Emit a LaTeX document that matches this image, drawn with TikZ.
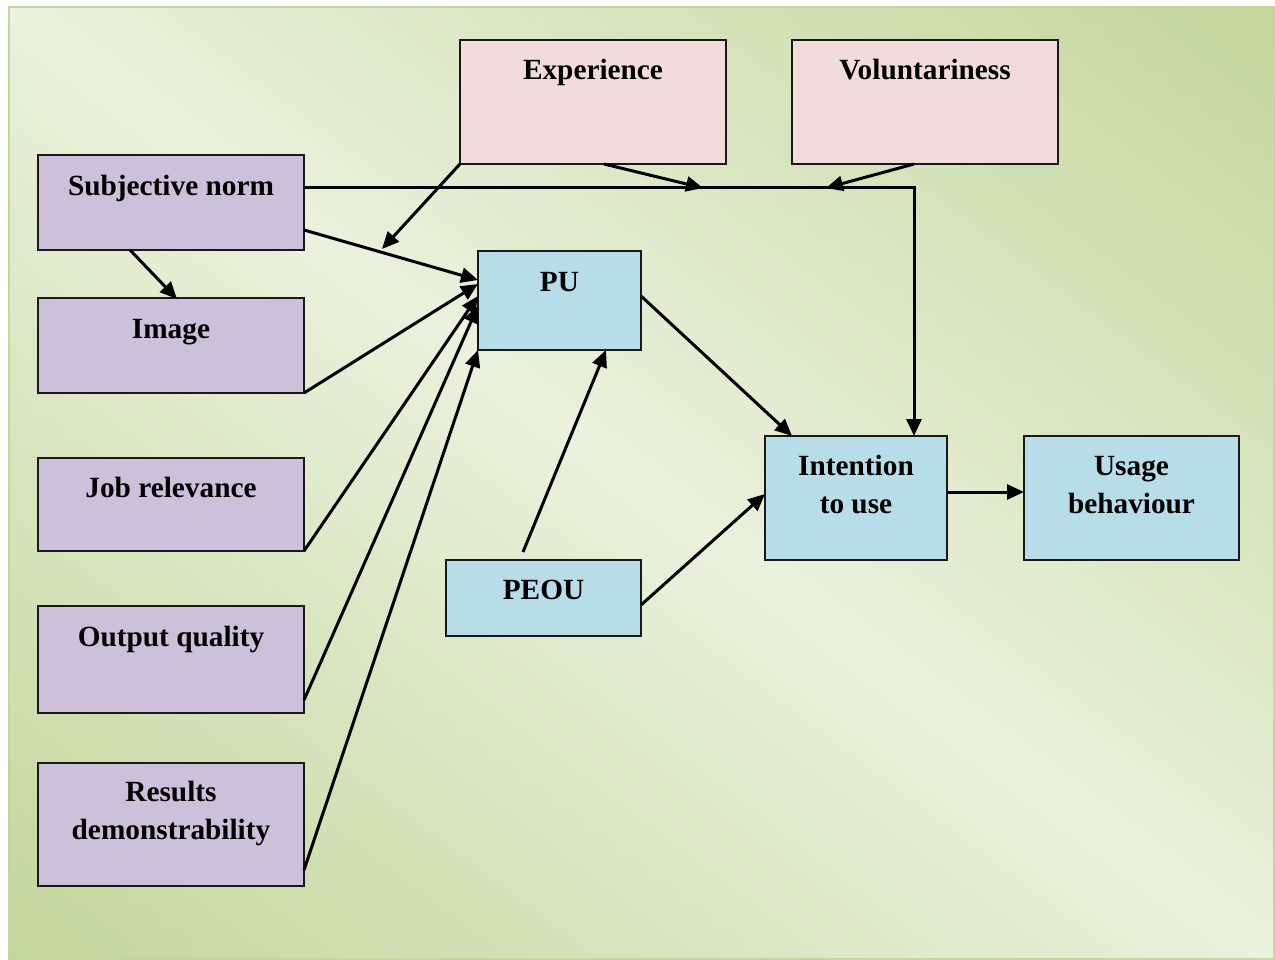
\documentclass[tikz,border=0pt]{standalone}
\usepackage{fontspec}
\setmainfont{Liberation Serif}
\usetikzlibrary{arrows.meta}
\definecolor{bgdark}{HTML}{C3D69B}
\definecolor{bglight}{HTML}{EAF1DD}
\definecolor{purplebox}{HTML}{CCC0DA}
\definecolor{pinkbox}{HTML}{F2DCDB}
\definecolor{bluebox}{HTML}{B7DEE8}
\tikzset{
  box/.style={draw=black!90, line width=2.5pt, inner sep=0pt, outer sep=0pt, anchor=north west},
  pbox/.style={box, fill=purplebox},
  kbox/.style={box, fill=pinkbox},
  bbox/.style={box, fill=bluebox},
  txt/.style={anchor=north, inner sep=0pt, align=center,
    font={\fontsize{29.3}{38}\selectfont\bfseries}},
  arr/.style={line width=3pt, -{Triangle[length=17pt,width=15pt]}},
}
\newcommand{\fl}{\rule{0pt}{21pt}}
\begin{document}
\begin{tikzpicture}[x=1pt,y=-1pt]
\useasboundingbox (0,0) rectangle (1275,960);
\fill[white] (0,0) rectangle (1275,960);
% page background: mirrored diagonal gradient, light along the main diagonal
\begin{scope}
  \clip (9,7) rectangle (1274,959);
  \foreach \i in {0,...,119}{
    \pgfmathsetmacro{\s}{-765+\i*12.75}
    \pgfmathtruncatemacro{\p}{round(abs(\s+6.375)/765*100)}
    \fill[bgdark!\p!bglight, rotate around={-36.96:(641.5,483)}]
      (-700,483+\s) rectangle (1980,483+\s+13.5);
  }
\end{scope}
\draw[bgdark, line width=2pt] (9,7) rectangle (1274,959);

% moderators
\node[kbox, minimum width=266pt, minimum height=124pt] (exp) at (460,40) {};
\node[kbox, minimum width=266pt, minimum height=124pt] (vol) at (792,40) {};
% determinants of PU
\node[pbox, minimum width=266pt, minimum height=95pt] (sub) at (38,155) {};
\node[pbox, minimum width=266pt, minimum height=95pt] (img) at (38,298) {};
\node[pbox, minimum width=266pt, minimum height=93pt] (job) at (38,458) {};
\node[pbox, minimum width=266pt, minimum height=107pt] (out) at (38,606) {};
\node[pbox, minimum width=266pt, minimum height=123pt] (res) at (38,763) {};
% TAM core
\node[bbox, minimum width=163pt, minimum height=99pt] (pu) at (478,251) {};
\node[bbox, minimum width=195pt, minimum height=76pt] (peou) at (446,560) {};
\node[bbox, minimum width=182pt, minimum height=124pt] (int) at (765,436) {};
\node[bbox, minimum width=215pt, minimum height=124pt] (use) at (1024,436) {};

% labels
\node[txt] (expT) at ([yshift=-18pt]exp.north) {\fl Experience};
\node[txt] (volT) at ([yshift=-18pt]vol.north) {\fl Voluntariness};
\node[txt] (subT) at ([yshift=-19pt]sub.north) {\fl Subjective norm};
\node[txt] (imgT) at ([yshift=-19pt]img.north) {\fl Image};
\node[txt] (jobT) at ([yshift=-18pt]job.north) {\fl Job relevance};
\node[txt] (outT) at ([yshift=-19pt]out.north) {\fl Output quality};
\node[txt] (resT) at ([yshift=-17pt]res.north) {\fl Results\\demonstrability};
\node[txt] (puT) at ([yshift=-19pt]pu.north) {\fl PU};
\node[txt] (peouT) at ([yshift=-18pt]peou.north) {\fl PEOU};
\node[txt] (intT) at ([yshift=-18pt]int.north) {\fl Intention\\to use};
\node[txt] (useT) at ([yshift=-18pt]use.north) {\fl Usage\\behaviour};

% free ends of moderator arrows
\coordinate (mexp) at (703,188);
\coordinate (mvol) at (826,188);
\coordinate (mpu) at (382,249);

% connectors
\draw[arr] ([yshift=-33pt]sub.north east) -| ([xshift=149pt]int.north west);
\draw[arr] ([xshift=144pt]exp.south west) -- (mexp);
\draw[arr] ([xshift=122pt]vol.south west) -- (mvol);
\draw[arr] (exp.south west) -- (mpu);
\draw[arr] ([yshift=20pt]sub.south east) -- ([yshift=-29pt]pu.north west);
\draw[arr] ([xshift=92pt]sub.south west) -- ([xshift=139pt,yshift=-1pt]img.north west);
\draw[arr] (img.south east) -- ([yshift=-33pt]pu.north west);
\draw[arr] (job.south east) -- ([yshift=-45pt]pu.north west);
\draw[arr] ([yshift=13pt]out.south east) -- ([yshift=-55pt]pu.north west);
\draw[arr] ([yshift=16pt]res.south east) -- (pu.south west);
\draw[arr] ([xshift=77pt,yshift=8pt]peou.north west) -- ([xshift=128pt]pu.south west);
\draw[arr] ([yshift=-45pt]pu.north east) -- ([xshift=27pt]int.north west);
\draw[arr] ([yshift=31pt]peou.south east) -- ([yshift=-58pt]int.north west);
\draw[arr] ([yshift=-56pt]int.north east) -- ([yshift=-56pt]use.north west);
\end{tikzpicture}
\end{document}
